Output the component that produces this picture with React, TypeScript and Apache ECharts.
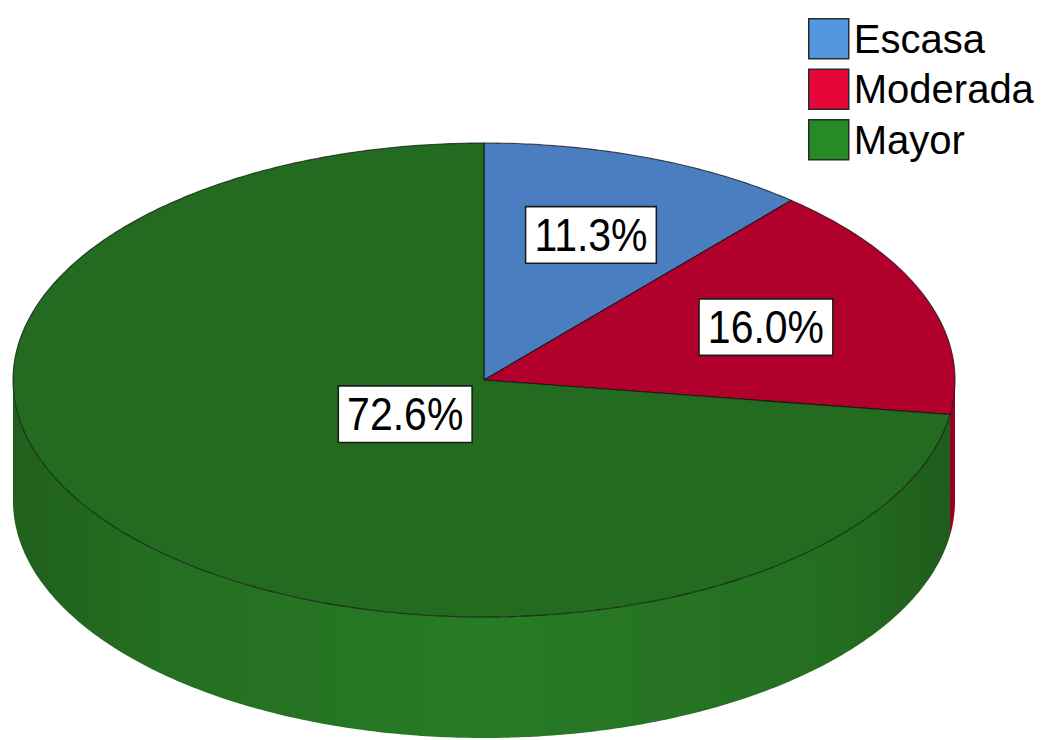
import React, { useEffect, useRef } from "react";
import * as echarts from "echarts";

const categories = ["Escasa", "Moderada", "Mayor"];
const percents = [11.3, 16.0, 72.6];
const labels = ["11.3%", "16.0%", "72.6%"];
const topColors = ["#4a7ec1", "#b1002b", "#236b20"];
const legendColors = ["#5596e0", "#e5063a", "#268a27"];

function shade(hex: string, f: number): string {
  const n = parseInt(hex.slice(1), 16);
  const r = Math.min(255, Math.round(((n >> 16) & 255) * f));
  const g = Math.min(255, Math.round(((n >> 8) & 255) * f));
  const b = Math.min(255, Math.round((n & 255) * f));
  return "#" + ((1 << 24) + (r << 16) + (g << 8) + b).toString(16).slice(1);
}

export default function App() {
  const ref = useRef<HTMLDivElement>(null);
  useEffect(() => {
    document.body.style.margin = "0";
    const chart = echarts.init(ref.current!, null, { renderer: "svg" });
    const total = percents.reduce((a, b) => a + b, 0);
    const cx = 484, cy = 380, rx = 471, ry = 237, depth = 121;
    let acc = 0;
    const series = categories.map((name, i) => {
      const start = acc / total;
      acc += percents[i];
      const end = acc / total;
      const color = topColors[i];
      return {
        type: "custom",
        name,
        coordinateSystem: "none",
        itemStyle: { color },
        data: [[start, end, percents[i]]],
        renderItem: (params: any, api: any) => {
          const t0 = api.value(0) * 2 * Math.PI;
          const t1 = api.value(1) * 2 * Math.PI;
          const pt = (t: number, dy = 0) => [cx + rx * Math.sin(t), cy - ry * Math.cos(t) + dy];
          const arc = (a: number, b: number, dy: number, first: string) => {
            const n = Math.max(4, Math.ceil(Math.abs(b - a) / 0.01));
            let s = "";
            for (let k = 0; k <= n; k++) {
              const p = pt(a + ((b - a) * k) / n, dy);
              s += (k === 0 ? first : " L") + p[0].toFixed(2) + " " + p[1].toFixed(2);
            }
            return s;
          };
          const children: any[] = [];
          const a = Math.max(t0, Math.PI / 2);
          const b = Math.min(t1, 1.5 * Math.PI);
          if (a < b) {
            const d = arc(a, b, 0, "M") + arc(b, a, depth, " L") + " Z";
            children.push({
              type: "path",
              shape: { pathData: d },
              style: {
                fill: {
                  type: "linear",
                  x: cx - rx, y: 0, x2: cx + rx, y2: 0,
                  global: true,
                  colorStops: [
                    { offset: 0, color: shade(color, 0.9) },
                    { offset: 0.15, color: shade(color, 1.03) },
                    { offset: 0.5, color: shade(color, 1.15) },
                    { offset: 0.88, color: shade(color, 1.02) },
                    { offset: 1, color: shade(color, 0.85) },
                  ],
                },
                stroke: null,
              },
            });
          }
          const top = "M" + cx + " " + cy + arc(t0, t1, 0, " L") + " Z";
          children.push({
            type: "path",
            shape: { pathData: top },
            style: { fill: color, stroke: "rgba(10,10,10,0.7)", lineWidth: 1.1 },
          });
          const mid = (t0 + t1) / 2;
          const half = (t1 - t0) / 2;
          const rc = (2 * Math.sin(half)) / (3 * half);
          children.push({
            type: "text",
            x: cx + rx * rc * Math.sin(mid),
            y: cy - ry * rc * Math.cos(mid),
            scaleY: 1.12,
            style: {
              text: labels[i],
              font: '41px "Liberation Sans", Arial, sans-serif',
              fill: "#000",
              align: "center",
              verticalAlign: "middle",
              backgroundColor: "#fff",
              borderColor: "#1a1a1a",
              borderWidth: 1.5,
              padding: [5, 8, 3, 8],
            },
          });
          return { type: "group", children };
        },
      };
    });
    chart.setOption({
      animation: false,
      backgroundColor: "#ffffff",
      legend: {
        orient: "vertical",
        left: 803,
        top: 13,
        itemWidth: 40,
        itemHeight: 40,
        itemGap: 9,
        icon: "rect",
        selectedMode: false,
        textStyle: {
          fontSize: 40,
          fontFamily: '"Liberation Sans", Arial, sans-serif',
          color: "#000",
          padding: [2, 0, 0, 0],
        },
        itemStyle: { borderColor: "#2a2a2a", borderWidth: 1.5 },
        data: categories.map((n, i) => ({ name: n, itemStyle: { color: legendColors[i] } })),
      },
      series,
    } as any);
    return () => chart.dispose();
  }, []);
  return <div ref={ref} style={{ width: 1050, height: 740 }} />;
}
